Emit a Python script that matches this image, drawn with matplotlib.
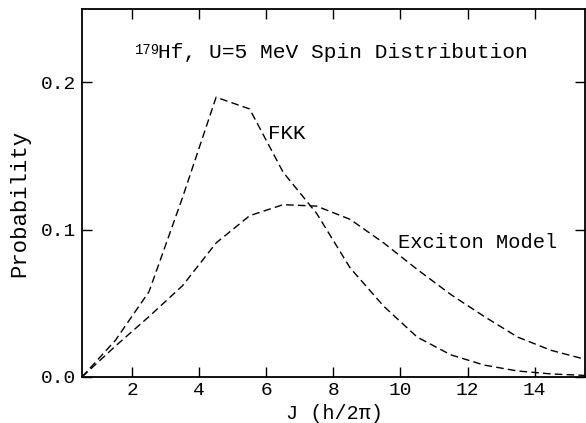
import matplotlib

matplotlib.use("Agg")
import matplotlib.pyplot as plt

# spin values J (h/2pi)
j_vals = [0.5, 1.5, 2.5, 3.5, 4.5, 5.5, 6.5, 7.5, 8.5, 9.5, 10.5, 11.5, 12.5, 13.5, 14.5, 15.5]
fkk = [0.0, 0.025, 0.058, 0.122, 0.190, 0.182, 0.139, 0.111, 0.074, 0.048, 0.027, 0.015,
       0.008, 0.004, 0.002, 0.001]
exciton = [0.0, 0.021, 0.041, 0.062, 0.091, 0.1095, 0.117, 0.116, 0.107, 0.091, 0.073, 0.056,
           0.041, 0.027, 0.018, 0.012]

x_ticks = [2, 4, 6, 8, 10, 12, 14]
y_ticks = [0.0, 0.1, 0.2]
y_tick_labels = ["0.0", "0.1", "0.2"]

plt.rcParams["font.family"] = ["Liberation Mono", "DejaVu Sans Mono"]

fig = plt.figure(figsize=(5.86, 4.23), dpi=100)
ax = fig.add_axes([0.140, 0.109, 0.858, 0.870])

dash = (0, (5.5, 3))
ax.plot(j_vals, fkk, color="black", lw=1.0, linestyle=dash)
ax.plot(j_vals, exciton, color="black", lw=1.0, linestyle=dash)

ax.set_xlim(0.5, 15.5)
ax.set_ylim(0, 0.25)
ax.set_xticks(x_ticks)
ax.set_yticks(y_ticks)
ax.set_yticklabels(y_tick_labels)
ax.tick_params(direction="in", length=7, width=1, top=True, right=True, labelsize=14)
ax.tick_params(axis="x", pad=4)
ax.tick_params(axis="y", pad=4)
for s in ax.spines.values():
    s.set_linewidth(1.3)

# title inside the axes, superscript drawn as its own small text
ax.text(2.07, 0.2195, "179", fontsize=10, va="baseline")
ax.text(2.76, 0.2165, "Hf, U=5 MeV Spin Distribution", fontsize=15.3, va="baseline")
ax.text(6.05, 0.1615, "FKK", fontsize=15, va="baseline")
ax.text(9.92, 0.0878, "Exciton Model", fontsize=14.7, va="baseline")

fig.text(334 / 586, 1 - 413 / 423, "J (h/2\u03c0)", fontsize=14.5, ha="center", va="center")
fig.text(20 / 586, 1 - 203 / 423, "Probability", fontsize=16, rotation=90,
         ha="center", va="center")

fig.savefig("out.png", dpi=100)
